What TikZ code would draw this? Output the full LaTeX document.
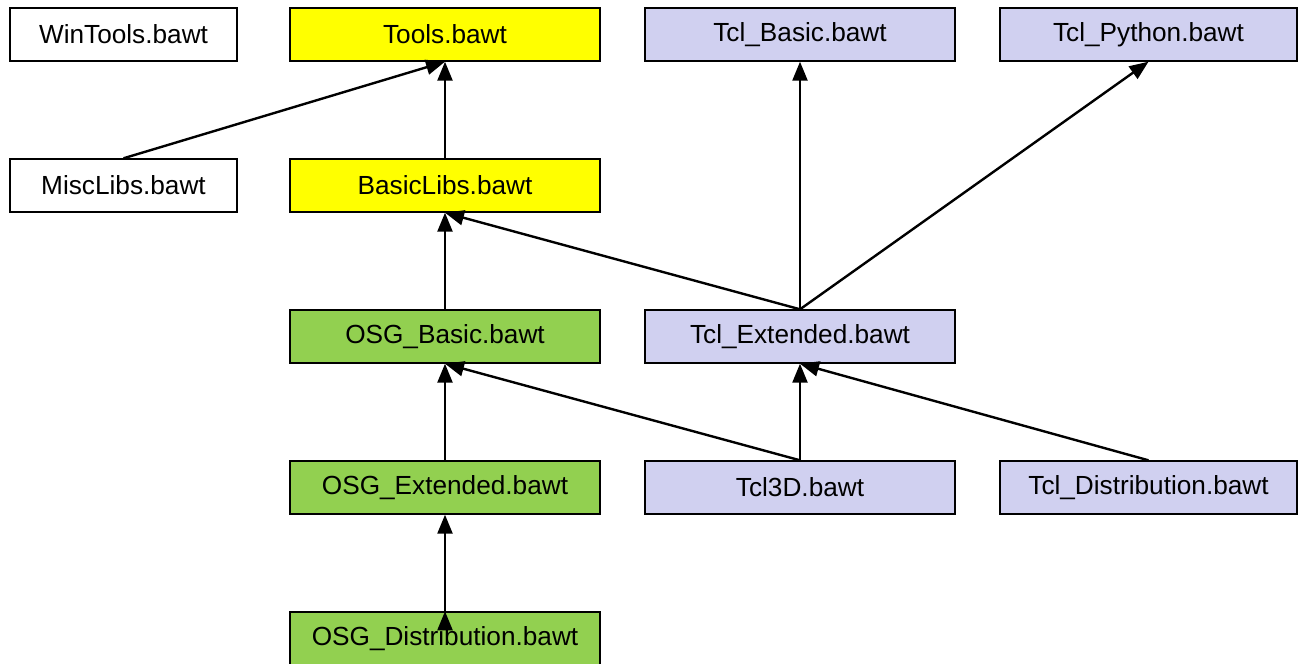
\documentclass[tikz,border=0pt]{standalone}
\usepackage{fontspec}
\setmainfont{Liberation Sans}
\usetikzlibrary{positioning, arrows.meta}

\definecolor{toolyellow}{RGB}{255,255,0}
\definecolor{osggreen}{RGB}{146,208,80}
\definecolor{tclblue}{RGB}{208,208,240}

\begin{document}
\begin{tikzpicture}[x=1pt, y=-1pt, node distance=96.6pt and 43.6pt,
    pkg/.style={draw, line width=1.4pt, minimum height=53pt, inner sep=0pt,
        font=\fontsize{26.2}{30}\selectfont},
    narrow/.style={pkg, minimum width=227pt},
    wide/.style={pkg, minimum width=310pt},
    dep/.style={line width=2.4pt, -{Triangle[length=19pt, width=15pt]}}]
    \useasboundingbox (0,0) rectangle (1299,664);

    \node[narrow] (wintools) at (123.5,34.5) {WinTools.bawt};
    \node[wide, fill=toolyellow, right=51.6pt of wintools] (tools) {Tools.bawt};
    \node[wide, fill=tclblue, right=of tools] (tclbasic) {Tcl\_Basic.bawt};
    \node[pkg, minimum width=297pt, fill=tclblue, right=of tclbasic] (tclpython) {Tcl\_Python.bawt};

    \node[narrow, below=of wintools] (misclibs) {MiscLibs.bawt};
    \node[wide, fill=toolyellow, below=of tools] (basiclibs) {BasicLibs.bawt};

    \node[wide, fill=osggreen, below=of basiclibs] (osgbasic) {OSG\_Basic.bawt};
    \node[wide, fill=tclblue, right=of osgbasic] (tclext) {Tcl\_Extended.bawt};

    \node[wide, fill=osggreen, below=of osgbasic] (osgext) {OSG\_Extended.bawt};
    \node[wide, fill=tclblue, right=of osgext] (tcl3d) {Tcl3D.bawt};
    \node[pkg, minimum width=297pt, fill=tclblue, right=of tcl3d] (tcldist) {Tcl\_Distribution.bawt};

    \node[wide, fill=osggreen, below=of osgext] (osgdist) {OSG\_Distribution.bawt};

    \draw[dep]
        (misclibs.north) edge (tools.south)
        (basiclibs.north) edge (tools.south)
        (osgbasic.north) edge (basiclibs.south)
        (tclext.north) edge (basiclibs.south)
        (tclext.north) edge (tclbasic.south)
        (tclext.north) edge (tclpython.south)
        (osgext.north) edge (osgbasic.south)
        (tcl3d.north) edge (osgbasic.south)
        (tcl3d.north) edge (tclext.south)
        (tcldist.north) edge (tclext.south)
        (osgdist.north) edge (osgext.south)
       ;
\end{tikzpicture}
\end{document}
